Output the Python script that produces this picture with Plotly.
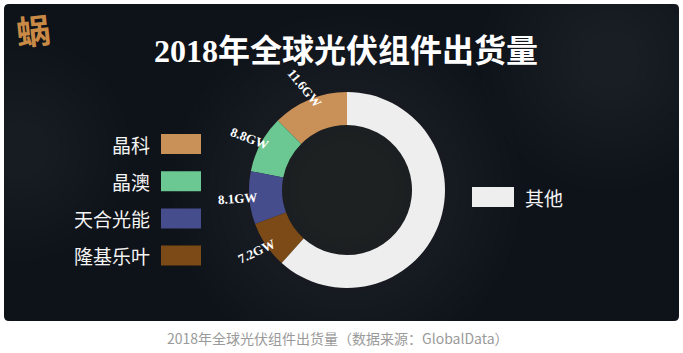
import math
import plotly.graph_objects as go

# ---- data ----
companies = ["晶科", "晶澳", "天合光能", "隆基乐叶", "其他"]
shipments_gw = [11.6, 8.8, 8.1, 7.2, 57.3]
colors = ["#C99158", "#6CC892", "#464D8D", "#7B4A17", "#EEEEEE"]
labelled = [True, True, True, True, False]
left_legend = ["晶科", "晶澳", "天合光能", "隆基乐叶"]
right_legend = ["其他"]
title_text = "2018年全球光伏组件出货量"
caption_text = "2018年全球光伏组件出货量（数据来源：GlobalData）"
logo_text = "蜗"

# ---- layout constants ----
W, H = 683, 353
CX, CY, R_OUT, R_IN = 347, 190, 98, 65
R_LABEL = 110
LABEL_TILT = 0.75
SERIF = "Liberation Serif, Noto Sans CJK SC, serif"
SANS = "Noto Sans CJK SC, sans-serif"


def px(x):
    return x / W


def py(y):
    return 1 - y / H


total = sum(shipments_gw)
# plotly's counterclockwise layout puts the first slice clockwise of the
# rotation angle; rotate so the first slice begins at 12 o'clock going left
first_span = shipments_gw[0] / total * 360

fig = go.Figure()
fig.add_trace(go.Pie(
    labels=companies, values=shipments_gw, sort=False,
    direction="counterclockwise", rotation=-first_span,
    hole=R_IN / R_OUT,
    marker=dict(colors=colors, line=dict(width=0)),
    textinfo="none", hoverinfo="label+value", showlegend=False,
    domain=dict(x=[px(CX - R_OUT), px(CX + R_OUT)],
                y=[py(CY + R_OUT), py(CY - R_OUT)]),
))

shapes = []
# dark panel with rounded corners
x0, y0, x1, y1, rr = 4, 4, 679, 321, 5
path = (f"M {px(x0+rr)},{py(y0)} L {px(x1-rr)},{py(y0)} "
        f"Q {px(x1)},{py(y0)} {px(x1)},{py(y0+rr)} "
        f"L {px(x1)},{py(y1-rr)} Q {px(x1)},{py(y1)} {px(x1-rr)},{py(y1)} "
        f"L {px(x0+rr)},{py(y1)} Q {px(x0)},{py(y1)} {px(x0)},{py(y1-rr)} "
        f"L {px(x0)},{py(y0+rr)} Q {px(x0)},{py(y0)} {px(x0+rr)},{py(y0)} Z")
shapes.append(dict(type="path", xref="paper", yref="paper", path=path,
                   fillcolor="#0E1219", line=dict(width=0), layer="below"))


def haze(cx, cy, radii, color):
    for r in radii:
        shapes.append(dict(type="circle", xref="paper", yref="paper",
                           x0=px(cx - r), x1=px(cx + r), y0=py(cy + r), y1=py(cy - r),
                           fillcolor=color, line=dict(width=0), layer="below"))


haze(CX, CY, list(range(175, 40, -9)), "rgba(74,72,72,0.03)")
haze(610, 60, list(range(130, 20, -10)), "rgba(85,85,90,0.02)")
haze(20, 150, list(range(110, 20, -10)), "rgba(85,85,90,0.018)")
haze(170, 100, list(range(70, 10, -10)), "rgba(85,85,90,0.012)")

# white masks outside the panel
for (a, b, c, d) in [(0, 321, W, H), (0, 0, 4, H), (679, 0, W, H), (0, 0, W, 4)]:
    shapes.append(dict(type="rect", xref="paper", yref="paper",
                       x0=px(a), x1=px(c), y0=py(d), y1=py(b),
                       fillcolor="white", line=dict(width=0), layer="below"))

annotations = []
# slice value labels, roughly radial orientation
cum = 0.0
for v, show in zip(shipments_gw, labelled):
    mid = (cum + v / 2) / total * 2 * math.pi
    cum += v
    if not show:
        continue
    lx = CX - R_LABEL * math.sin(mid)
    ly = CY - R_LABEL * math.cos(mid)
    ang = LABEL_TILT * math.degrees(math.atan2(math.cos(mid), math.sin(mid)))
    annotations.append(dict(
        x=px(lx), y=py(ly), xref="paper", yref="paper", showarrow=False,
        text=f"{v}GW", textangle=ang, xanchor="center", yanchor="middle",
        font=dict(family=SERIF, size=13, color="white", weight="bold")))

# left legend
for i, name in enumerate(left_legend):
    c = colors[companies.index(name)]
    top = 134 + 37.2 * i
    shapes.append(dict(type="rect", xref="paper", yref="paper",
                       x0=px(161), x1=px(201), y0=py(top + 20), y1=py(top),
                       fillcolor=c, line=dict(width=0)))
    annotations.append(dict(x=px(152), y=py(top + 10), xref="paper", yref="paper",
                            text=name, showarrow=False, xanchor="right", yanchor="middle",
                            font=dict(family=SANS, size=19, color="#F4F4F4")))

# right legend
for i, name in enumerate(right_legend):
    c = colors[companies.index(name)]
    top = 187
    shapes.append(dict(type="rect", xref="paper", yref="paper",
                       x0=px(472), x1=px(514), y0=py(top + 20), y1=py(top),
                       fillcolor=c, line=dict(width=0)))
    annotations.append(dict(x=px(523), y=py(top + 10), xref="paper", yref="paper",
                            text=name, showarrow=False, xanchor="left", yanchor="middle",
                            font=dict(family=SANS, size=19, color="#F4F4F4")))

# title
annotations.append(dict(x=px(346), y=py(51), xref="paper", yref="paper",
                        text=title_text, showarrow=False, xanchor="center", yanchor="middle",
                        font=dict(family=SERIF, size=32, color="white", weight="bold")))
# logo
annotations.append(dict(x=px(33), y=py(29), xref="paper", yref="paper",
                        text=logo_text, showarrow=False, xanchor="center", yanchor="middle",
                        textangle=-6,
                        font=dict(family=SANS, size=34, color="#C98A45", weight="bold")))
# caption
annotations.append(dict(x=px(338), y=py(338), xref="paper", yref="paper",
                        text=caption_text, showarrow=False, xanchor="center", yanchor="middle",
                        font=dict(family=SANS, size=14, color="#9A9A9A")))

fig.update_layout(
    width=W, height=H, margin=dict(l=0, r=0, t=0, b=0),
    paper_bgcolor="white", plot_bgcolor="white",
    shapes=shapes, annotations=annotations, showlegend=False,
)

fig.write_html("out.html")
